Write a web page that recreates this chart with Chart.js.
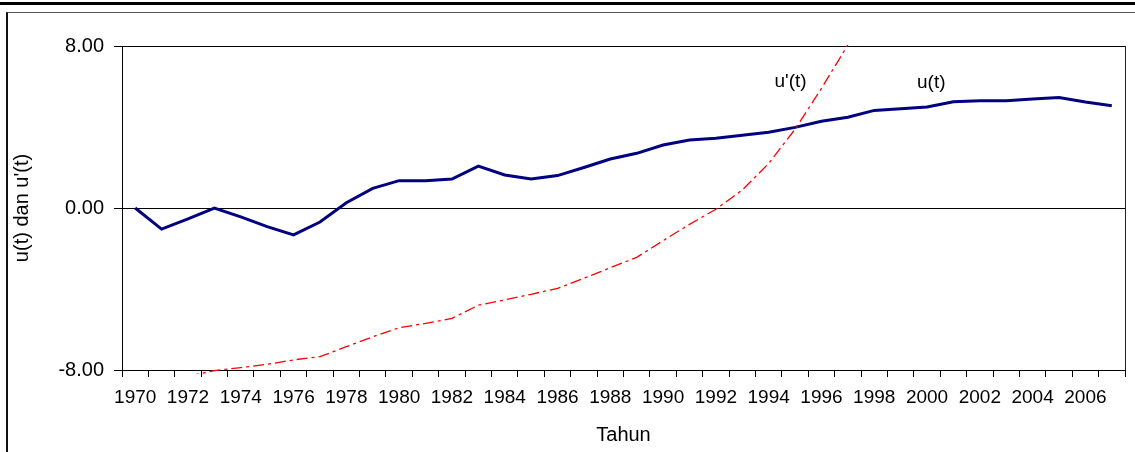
<!DOCTYPE html>
<html>
<head>
<meta charset="utf-8">
<script src="https://cdn.jsdelivr.net/npm/chart.js@4.4.1/dist/chart.umd.min.js"></script>
<style>
  body { margin: 0; background: #fff; }
  .wrapper { position: relative; width: 1135px; height: 452px; overflow: hidden; }
  .top-bar { position: absolute; left: 0; top: 2px; width: 1135px; height: 3px; background: #000; }
  .frame { position: absolute; left: 6px; top: 12px; width: 1300px; height: 600px;
           border-left: 2px solid #111; border-top: 1px solid #555; }
  canvas { position: absolute; left: 0; top: 0; }
</style>
</head>
<body>
<div class="wrapper">
  <div class="top-bar"></div>
  <div class="frame"></div>
  <canvas id="myChart" width="1135" height="452"></canvas>
</div>
<script>
// years on the category axis
const years = [];
for (let y = 1970; y <= 2007; y++) years.push(String(y));

// u(t)
const uValues = [
  0, -1.04, -0.54, 0, -0.44, -0.92, -1.33, -0.69, 0.26, 0.97,
  1.35, 1.35, 1.43, 2.07, 1.63, 1.43, 1.6, 2.0, 2.42, 2.7,
  3.11, 3.36, 3.44, 3.59, 3.74, 3.98, 4.28, 4.48, 4.82, 4.9,
  4.99, 5.25, 5.3, 5.3, 5.38, 5.46, 5.23, 5.05
];

// u'(t), only the part that is visible inside the axis range
const uPrimeValues = [
  null, null, -8.31, -8.03, -7.88, -7.72, -7.5, -7.34, -6.85, -6.36,
  -5.91, -5.7, -5.45, -4.8, -4.54, -4.26, -3.97, -3.47, -2.95, -2.44,
  -1.61, -0.81, -0.06, 0.89, 2.2, 3.89, 5.91, 8.05, null, null,
  null, null, null, null, null, null, null, null
];

const yTicks = [-8, 0, 8];

// curve labels: [text, year, value]
const curveLabels = [
  ["u'(t)", 1994.83, 6.22],
  ['u(t)', 2000.16, 6.17]
];

const font = "'Liberation Sans', Arial, sans-serif";

// right edge of the plot area plus the curve names
const plotExtras = {
  id: 'plotExtras',
  afterDatasetsDraw(chart) {
    const { ctx, chartArea, scales } = chart;
    ctx.save();
    ctx.strokeStyle = '#222';
    ctx.lineWidth = 1;
    ctx.beginPath();
    ctx.moveTo(Math.round(chartArea.right) + 0.5, chartArea.top);
    ctx.lineTo(Math.round(chartArea.right) + 0.5, chartArea.bottom);
    ctx.stroke();

    ctx.fillStyle = '#000';
    ctx.font = '19px ' + font;
    ctx.textAlign = 'center';
    ctx.textBaseline = 'middle';
    curveLabels.forEach(([text, year, value]) => {
      const i = year - 1970;
      const x0 = scales.x.getPixelForValue(Math.floor(i));
      const x1 = scales.x.getPixelForValue(Math.floor(i) + 1);
      const x = x0 + (x1 - x0) * (i - Math.floor(i));
      ctx.fillText(text, x, scales.y.getPixelForValue(value));
    });
    ctx.restore();
  }
};

const config = {
  type: 'line',
  data: {
    labels: years,
    datasets: [{
      label: 'u(t)',
      data: uValues,
      borderColor: '#000080',
      borderWidth: 3,
      pointRadius: 0,
      tension: 0,
      order: 1
    }, {
      label: "u'(t)",
      data: uPrimeValues,
      borderColor: '#ff0000',
      borderWidth: 1.3,
      borderDash: [11, 4, 3, 4],
      pointRadius: 0,
      tension: 0,
      clip: { left: 0, top: 2, right: 0, bottom: 4 },
      order: 0
    }]
  },
  options: {
    responsive: false,
    animation: false,
    events: [],
    layout: { padding: { left: 8, right: 10, top: 46, bottom: 0 } },
    plugins: { legend: { display: false }, tooltip: { enabled: false } },
    scales: {
      x: {
        offset: true,
        grid: { offset: true, drawOnChartArea: false, color: '#000', tickLength: 7 },
        border: { color: '#000', width: 1 },
        ticks: {
          autoSkip: false,
          maxRotation: 0,
          padding: 9,
          color: '#000',
          font: { family: font, size: 19 },
          callback: (v, i) => (i % 2 === 0 ? years[i] : '')
        },
        title: {
          display: true,
          text: 'Tahun',
          color: '#000',
          font: { family: font, size: 20 },
          padding: { top: 0, bottom: 5 }
        },
        afterFit: (s) => { s.height = 82; }
      },
      y: {
        min: -8,
        max: 8,
        afterBuildTicks: (s) => { s.ticks = yTicks.map(v => ({ value: v })); },
        grid: { color: '#000', tickLength: 8 },
        border: { color: '#000', width: 1 },
        ticks: {
          padding: 10,
          color: '#000',
          font: { family: font, size: 20 },
          callback: (v) => v.toFixed(2)
        },
        title: {
          display: true,
          text: "u(t) dan u'(t)",
          color: '#000',
          font: { family: font, size: 20 },
          padding: { top: 2, bottom: 0 }
        },
        afterFit: (s) => { s.width = 114; }
      }
    }
  },
  plugins: [plotExtras]
};

document.addEventListener('DOMContentLoaded', () => {
  new Chart(document.getElementById('myChart'), config);
});
</script>
</body>
</html>
